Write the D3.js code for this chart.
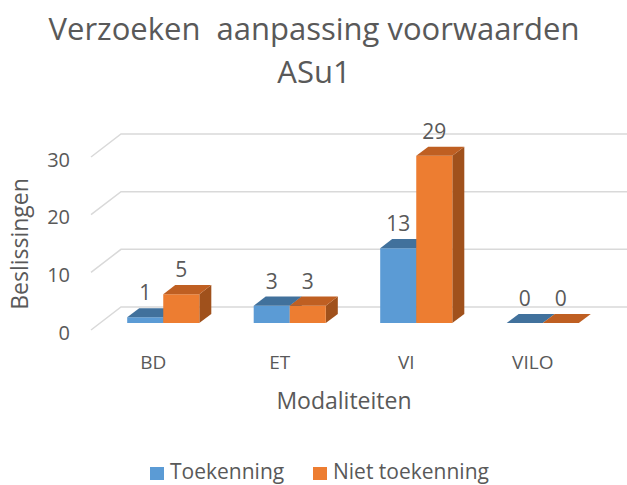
<!DOCTYPE html>
<html>
<head>
<meta charset="utf-8">
<script src="https://cdn.jsdelivr.net/npm/d3@7"></script>
<style>
  body { margin: 0; background: #fff; }
  text { font-family: "Open Sans", sans-serif; fill: #595959; }
</style>
</head>
<body>
<div id="chart"></div>
<script>
var categories = ["BD", "ET", "VI", "VILO"];
var seriesNames = ["Toekenning", "Niet toekenning"];
var toekenning = [1, 3, 13, 0];
var nietToekenning = [5, 3, 29, 0];
var yTicks = [0, 10, 20, 30];

var colors = {
  "Toekenning": { front: "#5b9bd5", top: "#41719c", side: "#3b6790" },
  "Niet toekenning": { front: "#ed7d31", top: "#bf5f22", side: "#a0511c" }
};

var width = 627, height = 485;
var DX = 30, DY = 23;           // depth offset of the back wall
var z0 = 0.3, z1 = 0.7;         // depth range of the bars

var svg = d3.select("#chart").append("svg")
  .attr("width", width).attr("height", height);

var x0 = d3.scaleBand()
  .domain(categories)
  .range([91, 597])
  .paddingInner(0.43)
  .paddingOuter(0.215);

var x1 = d3.scaleBand()
  .domain(seriesNames)
  .range([0, x0.bandwidth()]);

var y = d3.scaleLinear()
  .domain([0, 30])
  .range([330, 157]);

function proj(x, v, z) {
  return [x + z * DX, y(v) - z * DY];
}

// gridlines: left wall diagonal + back wall line
var xStart = x0.range()[0], xEnd = x0.range()[1];
svg.append("g").selectAll("polyline")
  .data(yTicks)
  .enter().append("polyline")
  .attr("points", function (t) {
    return [proj(xStart, t, 0), proj(xStart, t, 1), proj(xEnd, t, 1)].join(" ");
  })
  .attr("fill", "none")
  .attr("stroke", "#d9d9d9")
  .attr("stroke-width", 1.5);

// y tick labels
svg.append("g").selectAll("text")
  .data(yTicks)
  .enter().append("text")
  .attr("x", 70)
  .attr("y", function (t) { return y(t) + 2; })
  .attr("text-anchor", "end")
  .attr("dominant-baseline", "central")
  .style("font-size", "20px")
  .text(function (t) { return t; });

// bars
var data = [];
categories.forEach(function (c, i) {
  data.push({ cat: c, series: seriesNames[0], value: toekenning[i] });
  data.push({ cat: c, series: seriesNames[1], value: nietToekenning[i] });
});

var bars = svg.append("g").selectAll("g")
  .data(data)
  .enter().append("g");

function bx(d) { return x0(d.cat) + x1(d.series); }
var bw = x1.bandwidth();

bars.append("polygon")   // side
  .attr("points", function (d) {
    var xr = bx(d) + bw;
    return [proj(xr, 0, z0), proj(xr, 0, z1), proj(xr, d.value, z1), proj(xr, d.value, z0)].join(" ");
  })
  .attr("fill", function (d) { return colors[d.series].side; });

bars.append("polygon")   // front
  .attr("points", function (d) {
    var xl = bx(d), xr = xl + bw;
    return [proj(xl, 0, z0), proj(xr, 0, z0), proj(xr, d.value, z0), proj(xl, d.value, z0)].join(" ");
  })
  .attr("fill", function (d) { return colors[d.series].front; });

bars.append("polygon")   // top
  .attr("points", function (d) {
    var xl = bx(d), xr = xl + bw;
    return [proj(xl, d.value, z0), proj(xr, d.value, z0), proj(xr, d.value, z1), proj(xl, d.value, z1)].join(" ");
  })
  .attr("fill", function (d) { return colors[d.series].top; });

// value labels
bars.append("text")
  .attr("x", function (d) { return proj(bx(d) + bw / 2, d.value, z0)[0]; })
  .attr("y", function (d) { return proj(bx(d), d.value, z0)[1] - 25; })
  .attr("text-anchor", "middle")
  .attr("dominant-baseline", "central")
  .style("font-size", "21px")
  .text(function (d) { return d.value; });

// category labels
svg.append("g").selectAll("text")
  .data(categories)
  .enter().append("text")
  .attr("x", function (c) { return x0(c) + x0.bandwidth() / 2 - 1; })
  .attr("y", 362)
  .attr("text-anchor", "middle")
  .attr("dominant-baseline", "central")
  .style("font-size", "19px")
  .text(function (c) { return c; });

// axis titles
svg.append("text")
  .attr("x", 344).attr("y", 400)
  .attr("text-anchor", "middle")
  .attr("dominant-baseline", "central")
  .style("font-size", "23px")
  .text("Modaliteiten");

svg.append("text")
  .attr("transform", "translate(19,244) rotate(-90)")
  .attr("text-anchor", "middle")
  .attr("dominant-baseline", "central")
  .style("font-size", "23px")
  .text("Beslissingen");

// title
var title = svg.append("text")
  .attr("text-anchor", "middle")
  .style("font-size", "31px");
title.append("tspan").attr("x", 314).attr("y", 40).text("Verzoeken  aanpassing voorwaarden").style("white-space", "pre");
title.append("tspan").attr("x", 314).attr("y", 83).text("ASu1");

// legend
var legendX = [150, 313];
var legend = svg.append("g").selectAll("g")
  .data(seriesNames)
  .enter().append("g")
  .attr("transform", function (d, i) { return "translate(" + legendX[i] + ",467)"; });

legend.append("rect")
  .attr("width", 14).attr("height", 13)
  .attr("fill", function (d) { return colors[d].front; });

legend.append("text")
  .attr("x", 20).attr("y", 12)
  .style("font-size", "21px")
  .text(function (d) { return d; });
</script>
</body>
</html>
